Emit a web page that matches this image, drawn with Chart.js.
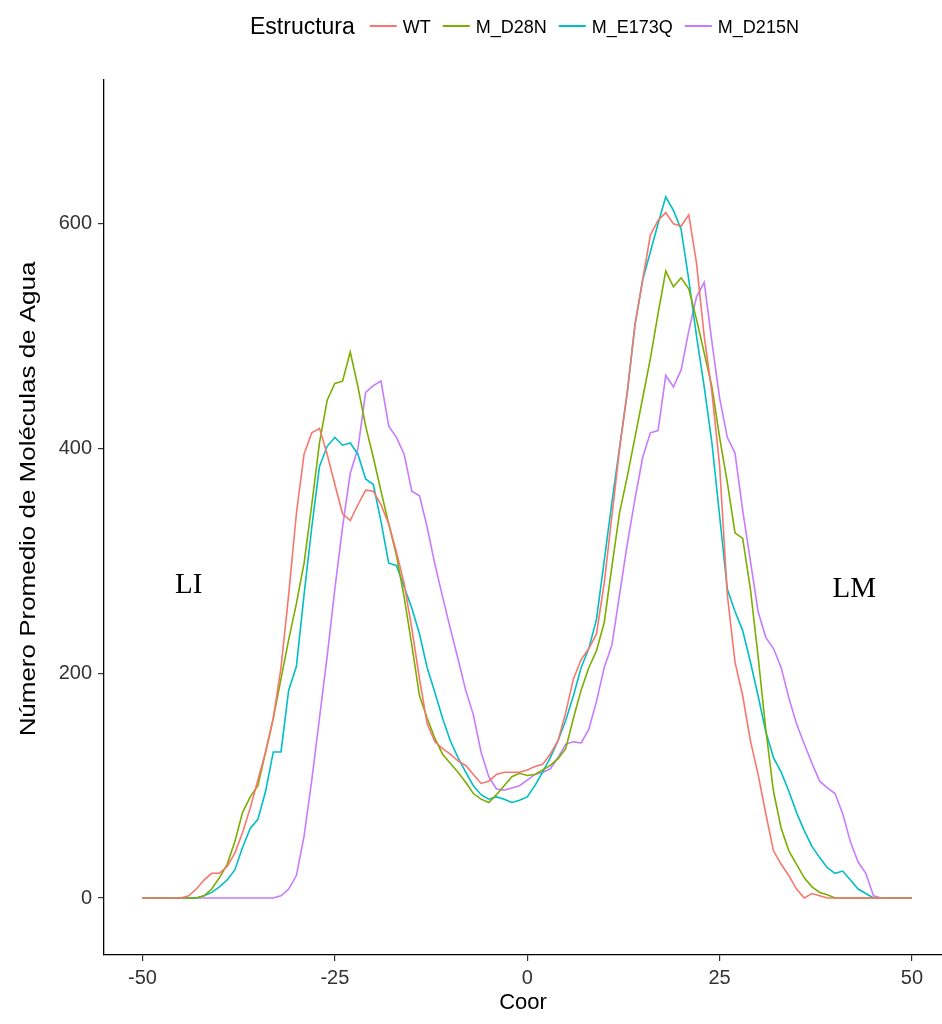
<!DOCTYPE html>
<html>
<head>
<meta charset="utf-8">
<script src="https://cdn.jsdelivr.net/npm/chart.js@4.4.0/dist/chart.umd.min.js"></script>
<style>
  html, body { margin: 0; padding: 0; background: #fff; }
  #wrap { width: 942px; height: 1024px; }
</style>
</head>
<body>
<div id="wrap"><canvas id="waterChart" width="942" height="1024"></canvas></div>
<script>
// coordinate along the membrane normal
var coor = [
  -50,-49,-48,-47,-46,-45,-44,-43,-42,-41,
  -40,-39,-38,-37,-36,-35,-34,-33,-32,-31,
  -30,-29,-28,-27,-26,-25,-24,-23,-22,-21,
  -20,-19,-18,-17,-16,-15,-14,-13,-12,-11,
  -10,-9,-8,-7,-6,-5,-4,-3,-2,-1,
  0,1,2,3,4,5,6,7,8,9,
  10,11,12,13,14,15,16,17,18,19,
  20,21,22,23,24,25,26,27,28,29,
  30,31,32,33,34,35,36,37,38,39,
  40,41,42,43,44,45,46,47,48,49,50
];

var wt = [
  0,0,0,0,0,0,2,8,16,22,
  22,28,40,58,80,105,130,160,205,270,
  342,395,414,418,395,368,342,336,350,363,
  362,350,333,308,280,240,195,155,139,133,
  128,122,118,110,102,104,110,112,112,112,
  114,117,119,128,140,165,195,212,222,235,
  280,340,400,450,510,550,590,603,610,600,
  598,608,565,500,450,385,270,210,180,140,
  110,75,42,30,20,8,0,4,2,0,
  0,0,0,0,0,0,0,0,0,0,0
];

var mD28N = [
  0,0,0,0,0,0,0,0,2,8,
  18,30,50,76,90,100,130,160,195,230,
  262,298,350,405,443,458,460,486,455,420,
  392,362,333,305,268,225,180,160,142,128,
  120,112,103,93,88,85,92,100,108,111,
  109,110,114,118,124,133,160,185,205,220,
  245,295,343,375,410,445,480,520,558,544,
  552,542,515,485,455,410,370,325,320,275,
  215,150,95,62,42,30,18,10,5,3,
  0,0,0,0,0,0,0,0,0,0,0
];

var mE173Q = [
  0,0,0,0,0,0,0,0,2,5,
  10,16,25,45,62,70,95,130,130,185,
  206,270,330,384,402,410,403,405,395,373,
  368,335,298,296,277,258,235,205,183,160,
  140,125,112,100,92,88,90,88,85,87,
  90,100,112,125,140,158,180,205,222,248,
  300,352,401,450,510,550,575,600,624,612,
  595,550,500,455,405,340,275,255,238,210,
  180,148,125,112,95,76,60,46,36,27,
  22,24,16,8,4,0,0,0,0,0,0
];

var mD215N = [
  0,0,0,0,0,0,0,0,0,0,
  0,0,0,0,0,0,0,0,2,8,
  20,55,105,160,215,275,330,378,400,450,
  456,460,420,410,395,362,358,330,297,268,
  240,213,185,163,130,108,97,96,98,100,
  105,110,112,115,125,137,139,138,150,175,
  205,225,270,315,355,392,414,416,465,455,
  470,505,535,548,495,445,410,396,345,300,
  255,232,222,205,178,155,137,120,104,98,
  93,75,50,32,22,2,0,0,0,0,0
];

var seriesNames = ['WT', 'M_D28N', 'M_E173Q', 'M_D215N'];
var seriesColors = ['#F8766D', '#7CAE00', '#00BFC4', '#C77CFF'];
var seriesValues = [wt, mD28N, mE173Q, mD215N];

var xTicks = [-50, -25, 0, 25, 50];
var yTicks = [0, 200, 400, 600];

// side labels of the membrane (data coordinates)
var sideLabels = ['LI', 'LM'];
var sideCoor = [-44, 42.5];
var sideValue = [278, 275];

var sansFont = '"Liberation Sans", Arial, Helvetica, sans-serif';

var datasets = seriesNames.map(function(name, i) {
  return {
    label: name,
    data: coor.map(function(c, j) { return { x: c, y: seriesValues[i][j] }; }),
    borderColor: seriesColors[i],
    backgroundColor: seriesColors[i],
    borderWidth: 1.6,
    pointRadius: 0,
    tension: 0,
    fill: false
  };
});

var extrasPlugin = {
  id: 'extras',
  afterDraw: function(chart) {
    var ctx = chart.ctx;
    var xs = chart.scales.x, ys = chart.scales.y;

    // LI / LM
    ctx.save();
    ctx.fillStyle = '#000';
    ctx.font = '29px "Liberation Serif", "Times New Roman", serif';
    ctx.textAlign = 'center';
    ctx.textBaseline = 'middle';
    sideLabels.forEach(function(t, i) {
      ctx.fillText(t, xs.getPixelForValue(sideCoor[i]), ys.getPixelForValue(sideValue[i]));
    });
    ctx.restore();

    // y axis title (stretched like the reference)
    ctx.save();
    ctx.fillStyle = '#000';
    ctx.translate(29, 499);
    ctx.rotate(-Math.PI / 2);
    ctx.scale(1.18, 1);
    ctx.font = '22px ' + sansFont;
    ctx.textAlign = 'center';
    ctx.textBaseline = 'middle';
    ctx.fillText('Número Promedio de Moléculas de Agua', 0, 0);
    ctx.restore();

    // legend
    ctx.save();
    ctx.fillStyle = '#000';
    ctx.textAlign = 'left';
    ctx.textBaseline = 'alphabetic';
    ctx.font = '23px ' + sansFont;
    var lx = 250, ly = 26;
    ctx.fillText('Estructura', lx, 34);
    lx += ctx.measureText('Estructura').width + 15;
    ctx.font = '18px ' + sansFont;
    chart.data.datasets.forEach(function(ds) {
      ctx.strokeStyle = ds.borderColor;
      ctx.lineWidth = 2;
      ctx.beginPath();
      ctx.moveTo(lx, ly);
      ctx.lineTo(lx + 27, ly);
      ctx.stroke();
      lx += 33;
      ctx.fillText(ds.label, lx, 33);
      lx += ctx.measureText(ds.label).width + 12;
    });
    ctx.restore();
  }
};

var axisGrid = {
  display: true,
  drawOnChartArea: false,
  drawTicks: true,
  tickLength: 6,
  color: '#333',
  lineWidth: 1.2
};

new Chart(document.getElementById('waterChart'), {
  type: 'line',
  data: { datasets: datasets },
  options: {
    responsive: false,
    animation: false,
    devicePixelRatio: 1,
    layout: { padding: { top: 80, left: 0, right: 0, bottom: 0 } },
    plugins: {
      legend: { display: false },
      tooltip: { enabled: false }
    },
    scales: {
      x: {
        type: 'linear',
        min: -55,
        max: 53.9,
        afterBuildTicks: function(s) { s.ticks = xTicks.map(function(v) { return { value: v }; }); },
        afterFit: function(s) { s.height = 69; },
        grid: axisGrid,
        border: { display: true, color: '#000', width: 1.3 },
        ticks: { color: '#333', font: { size: 20, family: sansFont }, padding: 5, maxRotation: 0, autoSkip: false },
        title: { display: true, text: 'Coor', color: '#000', font: { size: 22, family: sansFont }, padding: { top: 0, bottom: 8 } }
      },
      y: {
        type: 'linear',
        min: -50.7,
        max: 728,
        afterBuildTicks: function(s) { s.ticks = yTicks.map(function(v) { return { value: v }; }); },
        afterFit: function(s) { s.width = 104; },
        grid: axisGrid,
        border: { display: true, color: '#000', width: 1.3 },
        ticks: { color: '#333', font: { size: 20, family: sansFont }, padding: 6 }
      }
    }
  },
  plugins: [extrasPlugin]
});
</script>
</body>
</html>
